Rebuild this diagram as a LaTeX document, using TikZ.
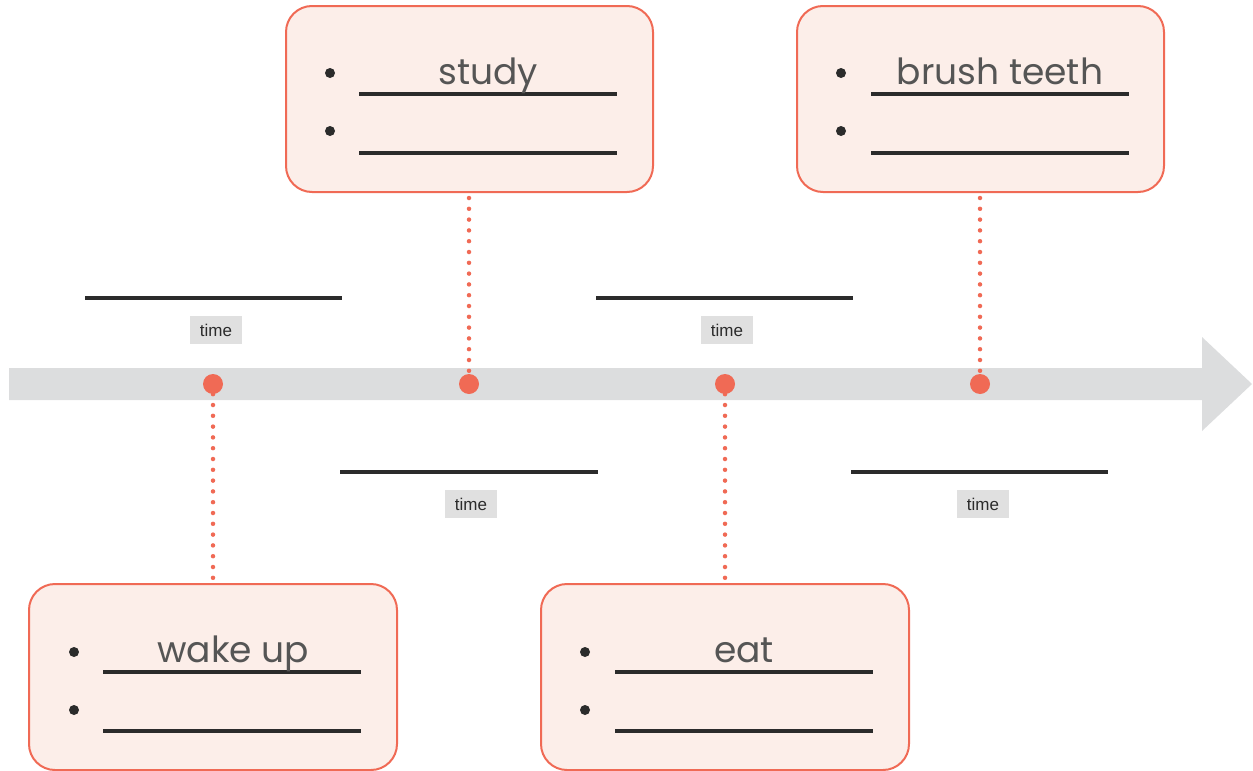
\documentclass[tikz,border=0pt]{standalone}
\usepackage{fontspec}
\setmainfont{Poppins}
\newfontfamily\labfont{Liberation Sans}
\usetikzlibrary{shapes.geometric}
\definecolor{salmon}{HTML}{F06A55}
\definecolor{pinkfill}{HTML}{FCEEE9}
\definecolor{bandgray}{HTML}{DCDDDE}
\definecolor{inkdark}{HTML}{2B2B2B}
\definecolor{tracegray}{HTML}{555555}
\definecolor{labbg}{HTML}{E0E0E0}
\tikzset{
  card/.style={draw=salmon, line width=2pt, fill=pinkfill, rounded corners=26pt},
  blank/.style={draw=inkdark, line width=3.2pt},
  bulletdot/.style={circle, fill=inkdark, inner sep=0pt, minimum size=10pt},
  event/.style={circle, fill=salmon, inner sep=0pt, minimum size=20pt},
  conn/.style={draw=salmon, line width=4.5pt, line cap=round, dash pattern=on 0pt off 10.8pt},
  tracetext/.style={text=tracegray, font=\fontsize{36}{40}\selectfont, anchor=base, inner sep=0pt},
  timelab/.style={fill=labbg, text=inkdark, font=\labfont\fontsize{17}{19}\selectfont, minimum width=52pt, minimum height=28pt, inner sep=0pt},
}
\begin{document}
\begin{tikzpicture}[x=1pt,y=-1pt]
\useasboundingbox (0,0) rectangle (1253,771);
% timeline band
\fill[bandgray] (9,368) -- (1202,368) -- (1202,337) -- (1252,384) -- (1202,431) -- (1202,400) -- (9,400) -- cycle;
% event dots
\node[event] (e1) at (213,384) {};
\node[event] (e2) at (469,384) {};
\node[event] (e3) at (725,384) {};
\node[event] (e4) at (980,384) {};
% connectors
\coordinate (c2b) at (469,198);
\coordinate (c4b) at (980,198);
\coordinate (c1t) at (213,580);
\coordinate (c3t) at (725,580);
\draw[conn] (c2b) -- (e2.north);
\draw[conn] (c4b) -- (e4.north);
\draw[conn] (e1.south) -- (c1t);
\draw[conn] (e3.south) -- (c3t);
% cards
\path[card] (286,6) rectangle (653,192);
\path[card] (797,6) rectangle (1164,192);
\path[card] (29,584) rectangle (397,770);
\path[card] (541,584) rectangle (909,770);
% study
\node[bulletdot] (b1) at (330,73) {};
\node[bulletdot] (b2) at (330,131) {};
\draw[blank] (359,94) -- (617,94);
\draw[blank] (359,153) -- (617,153);
\node[tracetext] (t1) at (488,84) {study};
% brush teeth
\node[bulletdot] (b3) at (841,73) {};
\node[bulletdot] (b4) at (841,131) {};
\draw[blank] (871,94) -- (1129,94);
\draw[blank] (871,153) -- (1129,153);
\node[tracetext] (t2) at (1000,84) {brush teeth};
% wake up
\node[bulletdot] (b5) at (74,652) {};
\node[bulletdot] (b6) at (74,710) {};
\draw[blank] (103,672) -- (361,672);
\draw[blank] (103,731) -- (361,731);
\node[tracetext] (t3) at (233,662) {wake up};
% eat
\node[bulletdot] (b7) at (585,652) {};
\node[bulletdot] (b8) at (585,710) {};
\draw[blank] (615,672) -- (873,672);
\draw[blank] (615,731) -- (873,731);
\node[tracetext] (t4) at (744,662) {eat};
% time blanks
\draw[blank] (85,298) -- (342,298);
\node[timelab] (l1) at (216,330) {time};
\draw[blank] (596,298) -- (853,298);
\node[timelab] (l2) at (727,330) {time};
\draw[blank] (340,472) -- (598,472);
\node[timelab] (l3) at (471,504) {time};
\draw[blank] (851,472) -- (1108,472);
\node[timelab] (l4) at (983,504) {time};
\end{tikzpicture}
\end{document}
